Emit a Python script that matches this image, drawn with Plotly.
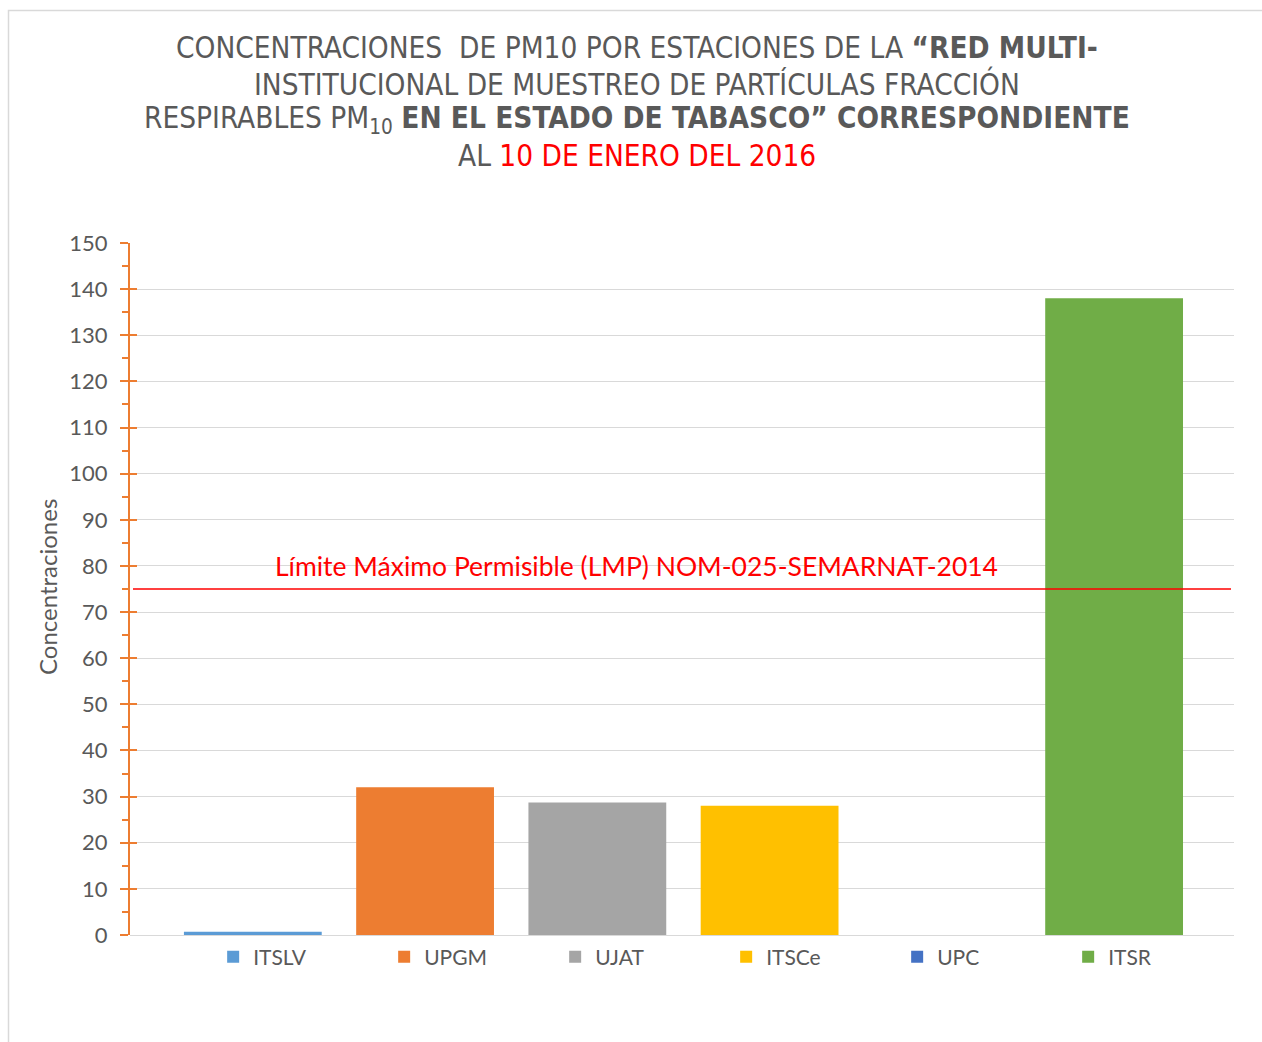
import plotly.graph_objects as go

# ---- data ----
stations = ["ITSLV", "UPGM", "UJAT", "ITSCe", "UPC", "ITSR"]
values = [0.7, 32, 28.7, 28, 0, 138]
colors = ["#5B9BD5", "#ED7D31", "#A5A5A5", "#FFC000", "#4472C4", "#70AD47"]
lmp_value = 75
lmp_label = "Límite Máximo Permisible (LMP) NOM-025-SEMARNAT-2014"
y_title = "Concentraciones"
title_lines = [
    "CONCENTRACIONES  DE PM10 POR ESTACIONES DE LA <b>“RED MULTI-</b>",
    "INSTITUCIONAL DE MUESTREO DE PARTÍCULAS FRACCIÓN",
    "RESPIRABLES PM<sub>10</sub> <b>EN EL ESTADO DE TABASCO” CORRESPONDIENTE</b>",
    "AL <span style='color:#FF0000'>10 DE ENERO DEL 2016</span>",
]

W, H = 1262, 1042
L, R, T, B = 130, 28, 243, 107
pw, ph = W - L - R, H - T - B


def px_x(x):
    return (x - L) / pw


def px_y(y):
    return (H - B - y) / ph


TEXT = "#595959"
ORANGE = "#ED7D31"
FONT = "Lato"
TITLE_FONT = "Liberation Sans Narrow, DejaVu Sans Condensed, Roboto Condensed, Arial Narrow, sans-serif"

fig = go.Figure()
for name, val, col in zip(stations, values, colors):
    fig.add_trace(go.Bar(x=[name], y=[val], name=name, marker_color=col,
                         marker_line_width=0, width=0.8))

# invisible trace to host the inside ticks axis
fig.add_trace(go.Scatter(x=[stations[0]], y=[0], yaxis="y2", mode="markers",
                         marker=dict(opacity=0), showlegend=False, hoverinfo="skip"))

fig.update_layout(
    width=W, height=H,
    margin=dict(l=L, r=R, t=T, b=B),
    paper_bgcolor="white", plot_bgcolor="white",
    barmode="overlay",
    font=dict(family=FONT, color=TEXT),
    showlegend=True,
    legend=dict(orientation="h", x=0.54, xanchor="center", y=px_y(957), yanchor="middle",
                font=dict(family=FONT, size=21, color=TEXT),
                entrywidth=126, entrywidthmode="pixels", itemclick=False,
                bgcolor="rgba(0,0,0,0)"),
    xaxis=dict(range=[-0.713, 5.696], showticklabels=False, showgrid=False,
               showline=False, zeroline=False, ticks=""),
    yaxis=dict(range=[0, 150], dtick=10, tick0=0, showgrid=True, gridcolor="#D9D9D9",
               gridwidth=1.3, zeroline=True, zerolinecolor="#D9D9D9", zerolinewidth=1.3,
               showline=True, linecolor=ORANGE, linewidth=2,
               ticks="outside", ticklen=8, tickwidth=2, tickcolor=ORANGE,
               minor=dict(dtick=5, ticks="outside", ticklen=6, tickwidth=2, tickcolor=ORANGE,
                          showgrid=False),
               tickfont=dict(family=FONT, size=22, color=TEXT), ticklabelstandoff=8),
    yaxis2=dict(range=[0, 150], dtick=10, overlaying="y", side="left",
                showgrid=False, zeroline=False, showline=False,
                ticks="inside", ticklen=7, tickwidth=2, tickcolor=ORANGE,
                showticklabels=False),
)

shapes = [
    dict(type="line", xref="paper", yref="y", x0=px_x(133), x1=px_x(1231),
         y0=lmp_value, y1=lmp_value, line=dict(color="#FF0000", width=1.3), layer="above"),
    dict(type="rect", xref="paper", yref="paper", x0=px_x(8.5), x1=px_x(1275),
         y0=px_y(1055), y1=px_y(10.5), line=dict(color="#D9D9D9", width=1.5),
         fillcolor="rgba(0,0,0,0)", layer="below"),
]
fig.update_layout(shapes=shapes)

ann = []
title_ys = [48, 84, 120, 156]
for line, yy in zip(title_lines, title_ys):
    ann.append(dict(text=line, xref="paper", yref="paper", x=px_x(637), y=px_y(yy),
                    xanchor="center", yanchor="middle", showarrow=False,
                    font=dict(family=TITLE_FONT, size=29.5, color=TEXT)))
ann.append(dict(text=lmp_label, xref="paper", yref="y", x=px_x(636.5), y=80,
                xanchor="center", yanchor="middle", showarrow=False,
                font=dict(family=FONT, size=26.5, color="#FF0000")))
ann.append(dict(text=y_title, xref="paper", yref="paper", x=px_x(47), y=px_y(587),
                xanchor="center", yanchor="middle", showarrow=False, textangle=-90,
                font=dict(family=FONT, size=24, color=TEXT)))
fig.update_layout(annotations=ann)

fig.write_html("out.html", config={"displayModeBar": False},
               post_script="document.body.style.margin='0px';document.body.style.overflow='hidden';")
